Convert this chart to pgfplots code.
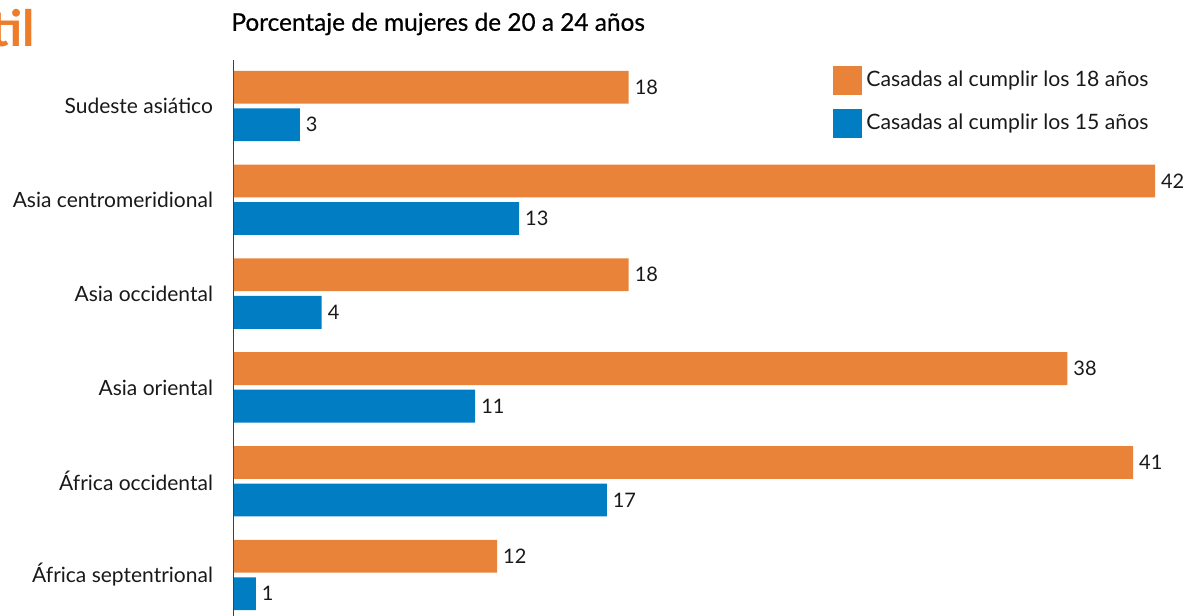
\documentclass[border=0pt]{standalone}
\usepackage{pgfplots}
\pgfplotsset{compat=1.18}
\usepackage{fontspec}
\setmainfont{Lato}
\newfontfamily\titlefont{Lato}[FakeBold=0.5]

\definecolor{naranja}{HTML}{EA833A}
\definecolor{azul}{HTML}{007DC3}
\definecolor{titulo}{HTML}{EE7D2B}

% orange: married by 18, blue: married by 15 (y = category position, top = 5)
\begin{document}
\begin{tikzpicture}
\begin{axis}[
    scale only axis,
    width=475pt, height=278pt,
    xbar,
    bar width=0.35,
    xmin=0, xmax=43.32,
    ymin=-0.437, ymax=5.49,
    axis x line=none,
    axis y line*=left,
    y axis line style={-, draw=black!75, line width=0.5pt},
    ytick={0,1,2,3,4,5},
    yticklabels={África septentrional, África occidental, Asia oriental, Asia occidental, Asia centromeridional, Sudeste asiático},
    major tick length=0pt,
    yticklabel style={font=\fontsize{10.5}{12}\selectfont, text=black!90, xshift=-7pt},
    nodes near coords,
    every node near coord/.append style={font=\fontsize{10}{12}\selectfont, text=black!90, xshift=-0.5pt},
    /pgf/number format/assume math mode=true,
    clip=false,
    legend image code/.code={\fill[#1] (0pt,-7.2pt) rectangle (14.5pt,7.2pt);},
    legend style={draw=none, fill=none, at={(axis description cs:0.6305,0.99)}, anchor=north west,
        font=\fontsize{10.6}{12}\selectfont, row sep=7.2pt, inner sep=0pt,
        nodes={inner sep=2pt, text=black!90}},
    legend cell align=left,
]
\addplot[fill=naranja, draw=none, bar shift=0.2] coordinates {
    (18,5) (42,4) (18,3) (38,2) (41,1) (12,0)
};
\addplot[fill=azul, draw=none, bar shift=-0.2] coordinates {
    (3,5) (13,4) (4,3) (11,2) (17,1) (1,0)
};
\legend{Casadas al cumplir los 18 años, Casadas al cumplir los 15 años}
\end{axis}
\node[anchor=west, inner sep=0pt, font=\titlefont\fontsize{12.2}{14}\selectfont] at (-1.5pt,296pt) {Porcentaje de mujeres de 20 a 24 años};
\node[anchor=west, inner sep=0pt, font=\bfseries\fontsize{25}{27}\selectfont, text=titulo] at (-122pt,294pt) {til};
\pgfresetboundingbox
\path (-117pt,0pt) rectangle (475pt,308pt);
\end{tikzpicture}
\end{document}
